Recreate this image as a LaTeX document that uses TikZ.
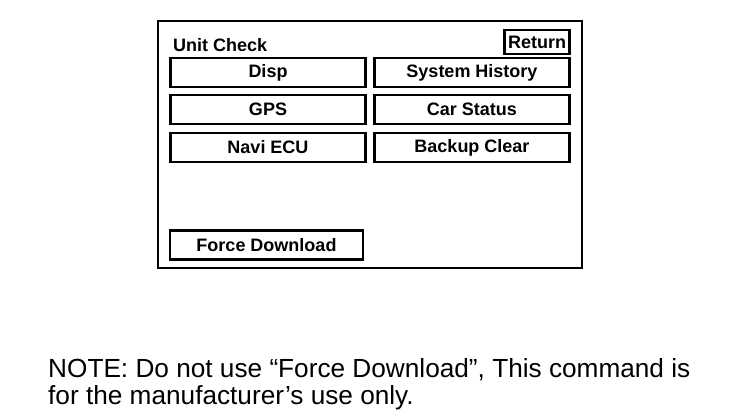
\documentclass[tikz,border=0pt]{standalone}
\usepackage{fontspec}
\setmainfont{Liberation Sans}
\begin{document}
\begin{tikzpicture}[x=1pt,y=-1pt,
  lbl/.style={font=\fontsize{18}{18}\selectfont\bfseries},
  btn/.style={draw,line width=2.4pt,minimum width=195pt,minimum height=29pt,inner sep=0pt,lbl},
  frame/.style={draw,line width=2pt},
  note/.style={anchor=base west,inner sep=0pt,font=\fontsize{26.2}{26.2}\selectfont}]
\useasboundingbox (0,0) rectangle (736,416);
\node[frame,minimum width=424pt,minimum height=247pt,inner sep=0pt] (panel) at (370,144) {};
\node[anchor=base west,inner sep=0pt,lbl] (title) at (173,51) {Unit Check};
\node[draw,line width=2.2pt,minimum width=65pt,minimum height=24pt,inner sep=0pt,lbl] (ret) at (537,42) {Return};
\node[btn] (disp) at (268,72.5) {Disp};
\node[btn] (hist) at (472,72.5) {System History};
\node[btn] (gps) at (268,109.5) {GPS};
\node[btn] (car) at (472,109.5) {Car Status};
\node[btn] (navi) at (268,147.5) {Navi ECU};
\node[btn] (backup) at (472,147.5) {Backup Clear};
\node[btn,minimum width=193pt] (force) at (266.5,245) {Force Download};
\node[note] (n1) at (48,377) {NOTE: Do not use ``Force Download'', This command is};
\node[note] (n2) at (48,404) {for the manufacturer's use only.};
\end{tikzpicture}
\end{document}
